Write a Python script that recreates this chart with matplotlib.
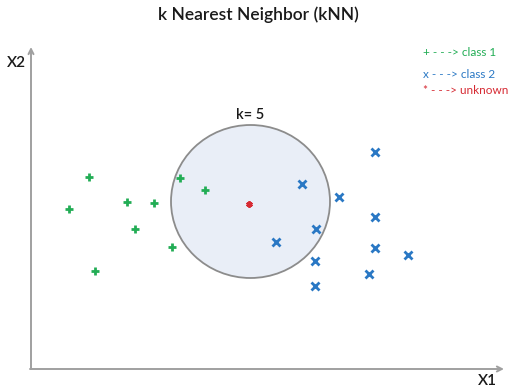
import numpy as np
import matplotlib.pyplot as plt
from matplotlib.patches import Ellipse

# points (pixel positions, y grows downward)
class1_x = [89, 69, 127, 154, 135, 172, 95, 180, 205]
class1_y = [177, 209, 202, 203, 229, 247, 271, 178, 190]
class2_x = [375, 302, 339, 375, 316, 276, 375, 408, 315, 369, 315]
class2_y = [152, 184, 197, 217, 229, 242, 248, 255, 261, 274, 286]
unknown_x = [249]
unknown_y = [204]

green = "#22ad55"
blue = "#2a78c4"
red = "#d62a33"

plt.rcParams["font.family"] = ["Lato", "DejaVu Sans"]

fig = plt.figure(figsize=(5.17, 3.90), dpi=100)
ax = fig.add_axes([0, 0, 1, 1])
ax.set_xlim(0, 517)
ax.set_ylim(390, 0)
ax.axis("off")

# Title
ax.text(258, 15, "k Nearest Neighbor (kNN)", ha="center", va="center",
        fontsize=12.5, color="#1a1a1a", fontweight="semibold")

# Axes with arrows
arrow = dict(arrowstyle="->", color="#a0a0a0", lw=1.4, shrinkA=0, shrinkB=0,
             mutation_scale=9)
ax.annotate("", xy=(31, 47), xytext=(31, 369), arrowprops=arrow)
ax.annotate("", xy=(504, 369), xytext=(30, 369), arrowprops=arrow)
ax.text(16, 63, "X2", ha="center", va="center", fontsize=11, color="#1a1a1a",
        fontweight="semibold")
ax.text(487, 381, "X1", ha="center", va="center", fontsize=11, color="#1a1a1a",
        fontweight="semibold")

# k neighbourhood circle
circ = Ellipse((250.5, 201.5), 159, 153, facecolor="#e9eef7",
               edgecolor="#8c8c8c", lw=1.3, zorder=1)
ax.add_patch(circ)
ax.text(250, 115, "k= 5", ha="center", va="center", fontsize=10.5, color="#1a1a1a",
        fontweight="semibold")

# Points
ax.plot(class1_x, class1_y, "+", color=green, markersize=6, mew=2, zorder=3)
ax.plot(class2_x, class2_y, "x", color=blue, markersize=5.5, mew=2, zorder=3)
ax.plot(unknown_x, unknown_y, marker=(6, 2, 0), color=red, markersize=4.5,
        mew=1.6, ls="none", zorder=3)

# Legend
ax.text(423, 53, "+ - - -> class 1", ha="left", va="center", fontsize=8.5, color=green)
ax.text(423, 74, "x - - -> class 2", ha="left", va="center", fontsize=8.5, color=blue)
ax.text(423, 91, "* - - -> unknown", ha="left", va="center", fontsize=8.5, color=red)

fig.savefig("out.png", dpi=100)
